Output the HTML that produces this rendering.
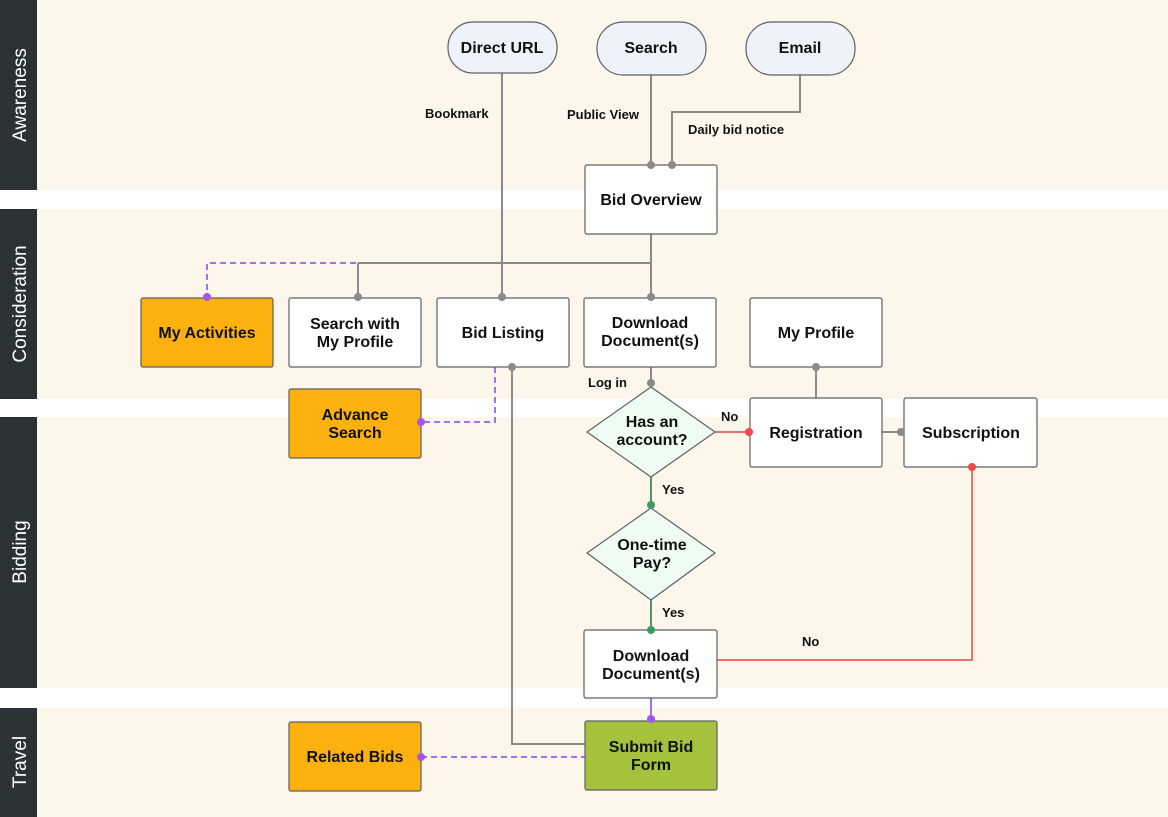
<!DOCTYPE html>
<html><head><meta charset="utf-8"><style>
html,body{margin:0;padding:0;background:#fff;}
svg{display:block;font-family:"Liberation Sans",sans-serif;}
.n{font-weight:bold;font-size:16px;fill:#111;text-anchor:middle;}
.l{font-weight:bold;font-size:13px;fill:#111;}
.lane{font-size:19px;fill:#fff;text-anchor:middle;}
</style></head><body>
<svg width="1168" height="817" viewBox="0 0 1168 817">
<rect x="0" y="0" width="1168" height="190" fill="#fdf6ea"/>
<rect x="0" y="209" width="1168" height="190" fill="#fdf6ea"/>
<rect x="0" y="417" width="1168" height="271" fill="#fdf6ea"/>
<rect x="0" y="708" width="1168" height="109" fill="#fdf6ea"/>
<rect x="0" y="0" width="37" height="190" fill="#2b3235"/>
<rect x="0" y="209" width="37" height="190" fill="#2b3235"/>
<rect x="0" y="417" width="37" height="271" fill="#2b3235"/>
<rect x="0" y="708" width="37" height="109" fill="#2b3235"/>
<text class="lane" transform="translate(26,95) rotate(-90)">Awareness</text>
<text class="lane" transform="translate(26,304) rotate(-90)">Consideration</text>
<text class="lane" transform="translate(26,552) rotate(-90)">Bidding</text>
<text class="lane" transform="translate(26,762) rotate(-90)">Travel</text>

<g fill="none" stroke-width="2">
<path d="M502 73V297" stroke="#8a8a8a"/>
<path d="M651 75V165" stroke="#8a8a8a"/>
<path d="M800 75V112H672V165" stroke="#8a8a8a"/>
<path d="M651 234V297M358 263H651M358 263V297" stroke="#8a8a8a"/>
<path d="M356 263H207V297" stroke="#a66ef0" stroke-dasharray="6,4"/>
<path d="M495 367V422H421" stroke="#a66ef0" stroke-dasharray="6,4"/>
<path d="M512 367V744H585" stroke="#8a8a8a"/>
<path d="M651 367V387" stroke="#8a8a8a"/>
<path d="M715 432H750" stroke="#f07070"/>
<path d="M651 477V505M651 600V630" stroke="#4c9a6a"/>
<path d="M717 660H972V467" stroke="#f07070"/>
<path d="M816 367V398M882 432H904" stroke="#8a8a8a"/>
<path d="M651 698V721" stroke="#a66ef0"/>
<path d="M421 757H585" stroke="#a66ef0" stroke-dasharray="6,4"/>
</g>

<g stroke="#5d6066" stroke-width="1.2">
<rect x="448" y="22" width="109" height="51" rx="25" fill="#eef3fa"/>
<rect x="597" y="22" width="109" height="53" rx="26" fill="#eef3fa"/>
<rect x="746" y="22" width="109" height="53" rx="26" fill="#eef3fa"/>
<rect x="585" y="165" width="132" height="69" rx="2" fill="#fff"/>
<rect x="141" y="298" width="132" height="69" rx="2" fill="#fdb10f"/>
<rect x="289" y="298" width="132" height="69" rx="2" fill="#fff"/>
<rect x="437" y="298" width="132" height="69" rx="2" fill="#fff"/>
<rect x="584" y="298" width="132" height="69" rx="2" fill="#fff"/>
<rect x="750" y="298" width="132" height="69" rx="2" fill="#fff"/>
<rect x="289" y="389" width="132" height="69" rx="2" fill="#fdb10f"/>
<polygon points="651,387 715,432 651,477 587,432" fill="#effcf3"/>
<rect x="750" y="398" width="132" height="69" rx="2" fill="#fff"/>
<rect x="904" y="398" width="133" height="69" rx="2" fill="#fff"/>
<polygon points="651,508 715,553 651,600 587,553" fill="#effcf3"/>
<rect x="584" y="630" width="133" height="68" rx="2" fill="#fff"/>
<rect x="585" y="721" width="132" height="69" rx="2" fill="#a4c23c"/>
<rect x="289" y="722" width="132" height="69" rx="2" fill="#fdb10f"/>
</g>

<g fill="#8a8a8a">
<circle cx="502" cy="297" r="4"/><circle cx="651" cy="165" r="4"/><circle cx="672" cy="165" r="4"/>
<circle cx="651" cy="297" r="4"/><circle cx="358" cy="297" r="4"/><circle cx="512" cy="367" r="4"/>
<circle cx="651" cy="383" r="4"/><circle cx="816" cy="367" r="4"/><circle cx="901" cy="432" r="4"/>
</g>
<g fill="#a455ee"><circle cx="207" cy="297" r="4"/><circle cx="421" cy="422" r="4"/><circle cx="651" cy="719" r="4"/><circle cx="421" cy="757" r="4"/></g>
<g fill="#f04a4a"><circle cx="749" cy="432" r="4"/><circle cx="972" cy="467" r="4"/></g>
<g fill="#3d9a62"><circle cx="651" cy="505" r="4"/><circle cx="651" cy="630" r="4"/></g>

<text class="n" x="502" y="53">Direct URL</text>
<text class="n" x="651" y="53">Search</text>
<text class="n" x="800" y="53">Email</text>
<text class="n" x="651" y="205">Bid Overview</text>
<text class="n" x="207" y="338">My Activities</text>
<text class="n" x="355" y="329">Search with</text><text class="n" x="355" y="347">My Profile</text>
<text class="n" x="503" y="338">Bid Listing</text>
<text class="n" x="650" y="328">Download</text><text class="n" x="650" y="346">Document(s)</text>
<text class="n" x="816" y="338">My Profile</text>
<text class="n" x="355" y="420">Advance</text><text class="n" x="355" y="438">Search</text>
<text class="n" x="652" y="427">Has an</text><text class="n" x="652" y="445">account?</text>
<text class="n" x="816" y="438">Registration</text>
<text class="n" x="971" y="438">Subscription</text>
<text class="n" x="652" y="550">One-time</text><text class="n" x="652" y="568">Pay?</text>
<text class="n" x="651" y="661">Download</text><text class="n" x="651" y="679">Document(s)</text>
<text class="n" x="651" y="752">Submit Bid</text><text class="n" x="651" y="770">Form</text>
<text class="n" x="355" y="762">Related Bids</text>

<text class="l" x="425" y="118">Bookmark</text>
<text class="l" x="567" y="119">Public View</text>
<text class="l" x="688" y="134">Daily bid notice</text>
<text class="l" x="588" y="387">Log in</text>
<text class="l" x="721" y="421">No</text>
<text class="l" x="662" y="494">Yes</text>
<text class="l" x="662" y="617">Yes</text>
<text class="l" x="802" y="646">No</text>
</svg>
</body></html>
